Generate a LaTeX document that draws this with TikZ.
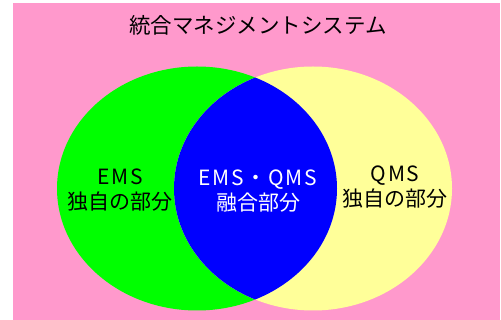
\documentclass[tikz,border=0pt]{standalone}
\usepackage{fontspec}
\newfontfamily\jp{Noto Sans CJK JP}
\definecolor{bgpink}{HTML}{FF99CC}
\definecolor{emsgreen}{HTML}{00FF00}
\definecolor{qmsyellow}{HTML}{FFFF99}
\definecolor{lensblue}{HTML}{0000FF}
\begin{document}
\begin{tikzpicture}[x=1pt,y=-1pt,
  lbl/.style={font=\jp\fontsize{21}{25}\selectfont, align=center, inner sep=0pt},
  title/.style={font=\jp\fontsize{21.5}{25}\selectfont, inner sep=0pt}]
\useasboundingbox (0,0) rectangle (501,320);
\fill[white] (0,0) rectangle (501,320);
\fill[bgpink] (13,3) rectangle (500,320);
\fill[emsgreen] (197,188.5) ellipse [x radius=140, y radius=122];
\fill[qmsyellow] (313,188.5) ellipse [x radius=139, y radius=122];
\begin{scope}
  \clip (197,188.5) ellipse [x radius=140, y radius=122];
  \fill[lensblue] (313,188.5) ellipse [x radius=139, y radius=122];
\end{scope}
\node[title] (t) at (258,25) {統合マネジメントシステム};
\node[lbl] (ems) at (120,190) {\addfontfeatures{LetterSpace=8}EMS\\独自の部分};
\node[lbl, white] (both) at (258,191) {\addfontfeatures{LetterSpace=8}EMS・QMS\\融合部分};
\node[lbl] (qms) at (395,187) {\addfontfeatures{LetterSpace=8}QMS\\独自の部分};
\end{tikzpicture}
\end{document}
